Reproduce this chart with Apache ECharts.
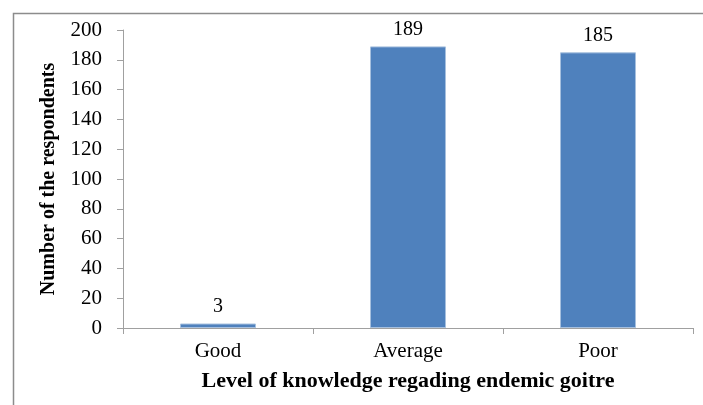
<!DOCTYPE html>
<html><head><meta charset="utf-8">
<script src="https://cdn.jsdelivr.net/npm/echarts@6/dist/echarts.min.js"></script>
<style>html,body{margin:0;padding:0;background:#fff}#c{width:703px;height:405px}</style>
</head><body><div id="c"></div>
<script>
const categories = ['Good', 'Average', 'Poor'];
const values = [3, 189, 185];
const yTicks = [0, 20, 40, 60, 80, 100, 120, 140, 160, 180, 200];
const xTitle = 'Level of knowledge regading endemic goitre';
const yTitle = 'Number of the respondents';

const serif = '"Liberation Serif", "Times New Roman", serif';
const chart = echarts.init(document.getElementById('c'), null, {renderer: 'canvas'});
chart.setOption({
  animation: false,
  graphic: [{
    type: 'rect', left: 11, top: 11,
    shape: {width: 760, height: 460},
    style: {fill: 'none', stroke: '#8c8c8c', lineWidth: 1.5},
    silent: true
  }],
  grid: {left: 123, right: 10, top: 30, bottom: 77, containLabel: false},
  xAxis: {
    type: 'category', data: categories,
    name: xTitle, nameLocation: 'middle', nameGap: 42,
    nameTextStyle: {fontFamily: serif, fontWeight: 'bold', fontSize: 22, color: '#000'},
    axisLine: {lineStyle: {color: '#a0a0a0', width: 1}},
    axisTick: {show: true, length: 6, lineStyle: {color: '#a0a0a0'}},
    axisLabel: {fontFamily: serif, fontSize: 21, color: '#000', margin: 13}
  },
  yAxis: {
    type: 'value', min: yTicks[0], max: yTicks[yTicks.length - 1], interval: yTicks[1] - yTicks[0],
    name: yTitle, nameLocation: 'middle', nameGap: 64, nameRotate: 90,
    nameTextStyle: {fontFamily: serif, fontWeight: 'bold', fontSize: 20, color: '#000'},
    axisLine: {show: true, lineStyle: {color: '#a0a0a0', width: 1}},
    axisTick: {show: true, length: 6, lineStyle: {color: '#a0a0a0'}},
    splitLine: {show: false},
    axisLabel: {fontFamily: serif, fontSize: 21, color: '#000', margin: 21}
  },
  series: [{
    type: 'bar', data: values, barCategoryGap: '60%',
    itemStyle: {color: '#4f81bd', borderColor: '#a7c0de', borderWidth: 1},
    label: {show: true, position: 'top', distance: 7, fontFamily: serif, fontSize: 20, color: '#000'}
  }]
});
</script></body></html>
